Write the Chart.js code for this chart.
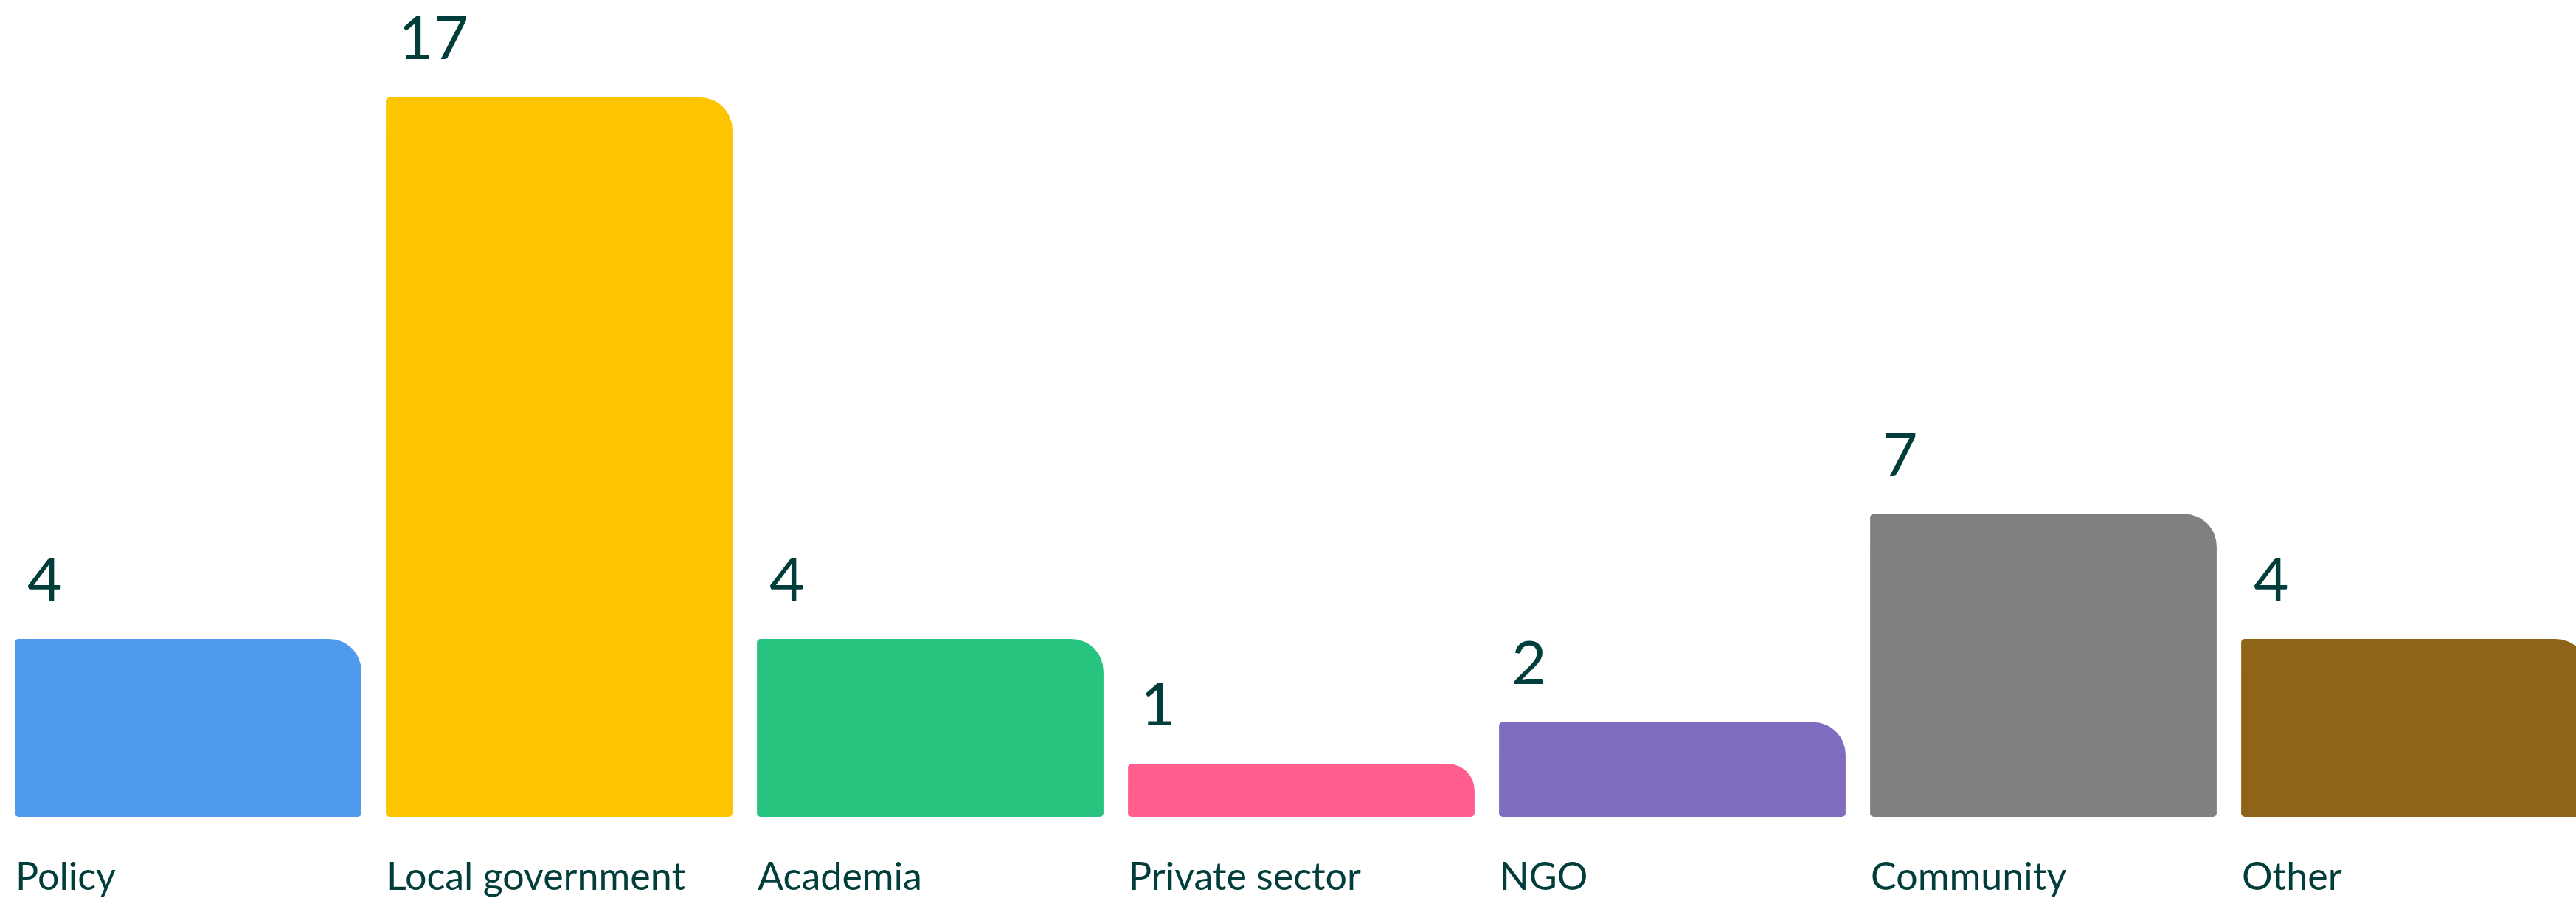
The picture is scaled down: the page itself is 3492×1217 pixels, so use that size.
<!DOCTYPE html>
<html>
<head>
<meta charset="utf-8">
<script src="https://cdn.jsdelivr.net/npm/chart.js@4"></script>
<style>
  html, body { margin: 0; padding: 0; background: #ffffff; overflow: hidden; }
  #wrap { position: absolute; left: 0; top: 0; width: 3528px; height: 1217px; }
</style>
</head>
<body>
<div id="wrap"><canvas id="chart"></canvas></div>
<script>
var categories = ['Policy', 'Local government', 'Academia', 'Private sector', 'NGO', 'Community', 'Other'];
var counts = [4, 17, 4, 1, 2, 7, 4];
var barColours = ['#509AEE', '#FDC400', '#28C37E', '#FF5E8F', '#7F6CBE', '#808080', '#8F6418'];

var axisMin = -0.27;
var axisMax = 17;
var textColour = '#003D3B';

// value above each bar and category name under it, both left aligned to the bar
var barText = {
    id: 'barText',
    afterDatasetsDraw: function(chart) {
        var ctx = chart.ctx;
        var meta = chart.getDatasetMeta(0);
        ctx.save();
        ctx.fillStyle = textColour;
        ctx.textAlign = 'left';
        ctx.textBaseline = 'alphabetic';
        meta.data.forEach(function(bar, i) {
            var left = bar.x - bar.width / 2;
            ctx.font = '82px Lato';
            ctx.fillText(String(counts[i]), left + 17, bar.y - 52);
            ctx.font = '52px Lato';
            ctx.fillText(categories[i], left + 1, chart.chartArea.bottom + 99);
        });
        ctx.restore();
    }
};

var ctx = document.getElementById('chart').getContext('2d');

var myChart = new Chart(ctx, {
    type: 'bar',
    data: {
        labels: categories,
        datasets: [{
            data: counts,
            backgroundColor: barColours,
            base: axisMin,
            barPercentage: 0.934,
            categoryPercentage: 1,
            borderSkipped: false,
            borderRadius: { topLeft: 5, topRight: 44, bottomLeft: 5, bottomRight: 5 }
        }]
    },
    options: {
        responsive: true,
        maintainAspectRatio: false,
        animation: false,
        layout: { padding: { left: 3.5, right: 3.5, top: 132, bottom: 110 } },
        plugins: {
            legend: { display: false },
            tooltip: { enabled: false }
        },
        scales: {
            x: { display: false },
            y: { display: false, min: axisMin, max: axisMax }
        }
    },
    plugins: [barText]
});
</script>
</body>
</html>
